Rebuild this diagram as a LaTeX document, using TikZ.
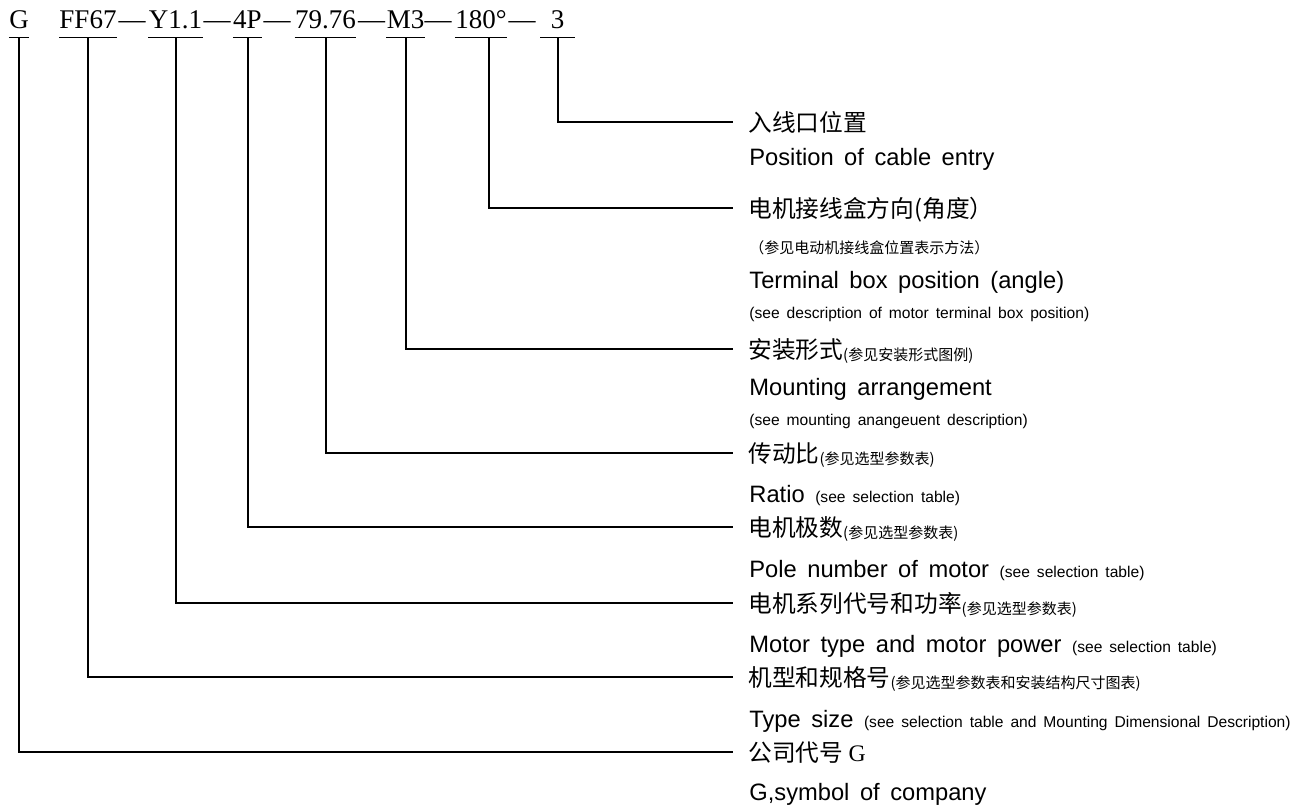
\documentclass[tikz,border=0pt]{standalone}
\usepackage{fontspec}
\setmainfont{Liberation Serif}
\newfontfamily\ensans[WordSpace=1.6]{Liberation Sans}
\newfontfamily\cjk{Noto Sans CJK SC}
\newcommand\cnsub[1]{\raisebox{-1pt}{\fontsize{7.5}{9}\selectfont #1}}
\newcommand\ensub[1]{{\fontsize{7.8}{9}\selectfont #1}}

\begin{document}
\begin{tikzpicture}[x=0.5pt,y=-0.5pt,
    code/.style={anchor=base,font=\fontsize{13.5}{16}\selectfont,inner xsep=0pt,inner ysep=4.5pt,text depth=0pt},
    joiner/.style={anchor=base,font=\fontsize{13.5}{16}\selectfont,inner sep=0pt},
    cn/.style={anchor=west,font=\cjk\fontsize{11.85}{14}\selectfont,inner xsep=7.5pt,inner ysep=0pt,text height=11pt,text depth=2pt},
    cnnote/.style={anchor=base west,font=\cjk\fontsize{7.5}{9}\selectfont,inner sep=0pt},
    en/.style={anchor=base west,font=\ensans\fontsize{11.85}{14}\selectfont,inner sep=0pt},
    ennote/.style={anchor=base west,font=\ensans\fontsize{7.8}{9}\selectfont,inner sep=0pt},
    uline/.style={line width=0.8pt},
    link/.style={line width=1pt}]

    \useasboundingbox (0,0) rectangle (1306,810);

    % model code
    \node[code] (cG)  at (19,28)    {G};
    \node[code] (cFF) at (88,28)    {FF67};
    \node[code] (cY)  at (175.5,28) {Y1.1};
    \node[code] (cP)  at (247.5,28) {4P};
    \node[code] (cR)  at (325.5,28) {79.76};
    \node[code] (cM)  at (405.5,28) {M3};
    \node[code] (cA)  at (481,28)   {180°};
    \node[code,minimum width=17pt] (cE) at (557.5,28) {3};

    \node[joiner] (j1) at (132,28)   {—};
    \node[joiner] (j2) at (217,28)   {—};
    \node[joiner] (j3) at (277,28)   {—};
    \node[joiner] (j4) at (371.5,28) {—};
    \node[joiner] (j5) at (438,28)   {—};
    \node[joiner] (j6) at (522,28)   {—};

    \draw[uline] (cG.south west)--(cG.south east);
    \draw[uline] (cFF.south west)--(cFF.south east);
    \draw[uline] (cY.south west)--(cY.south east);
    \draw[uline] (cP.south west)--(cP.south east);
    \draw[uline] (cR.south west)--(cR.south east);
    \draw[uline] (cM.south west)--(cM.south east);
    \draw[uline] (cA.south west)--(cA.south east);
    \draw[uline] (cE.south west)--(cE.south east);

    % descriptions
    \node[cn] (lE) at (733,122) {入线口位置};
    \node[en] (eE) at (749,165) {Position of cable entry};

    \node[cn] (lA) at (733,208) {电机接线盒方向(角度）};
    \node[cnnote] (nA) at (749,253) {（参见电动机接线盒位置表示方法）};
    \node[en] (eA) at (749,288) {Terminal box position (angle)};
    \node[ennote] (fA) at (749,318) {(see description of motor terminal box position)};

    \node[cn] (lM) at (733,349) {安装形式\cnsub{(参见安装形式图例)}};
    \node[en] (eM) at (749,395) {Mounting arrangement};
    \node[ennote] (fM) at (749,425) {(see mounting anangeuent description)};

    \node[cn] (lR) at (733,453) {传动比\cnsub{(参见选型参数表)}};
    \node[en] (eR) at (749,502) {Ratio \ensub{(see selection table)}};

    \node[cn] (lP) at (733,527) {电机极数\cnsub{(参见选型参数表)}};
    \node[en] (eP) at (749,577) {Pole number of motor \ensub{(see selection table)}};

    \node[cn] (lY) at (733,603) {电机系列代号和功率\cnsub{(参见选型参数表)}};
    \node[en] (eY) at (749,652) {Motor type and motor power \ensub{(see selection table)}};

    \node[cn] (lFF) at (733,677) {机型和规格号\cnsub{(参见选型参数表和安装结构尺寸图表)}};
    \node[en] (eFF) at (749,727) {Type size \ensub{(see selection table and Mounting Dimensional Description)}};

    \node[cn] (lG) at (733,752) {公司代号 {\rmfamily G}};
    \node[en] (eG) at (749,800) {G,symbol of company};

    \draw[link] (cE.south) |- (lE);
    \draw[link] ([xshift=4pt]cA.south) |- (lA);
    \draw[link] (cM.south) |- (lM);
    \draw[link] (cR.south) |- (lR);
    \draw[link] (cP.south) |- (lP);
    \draw[link] (cY.south) |- (lY);
    \draw[link] (cFF.south) |- (lFF);
    \draw[link] (cG.south) |- (lG);
\end{tikzpicture}
\end{document}
